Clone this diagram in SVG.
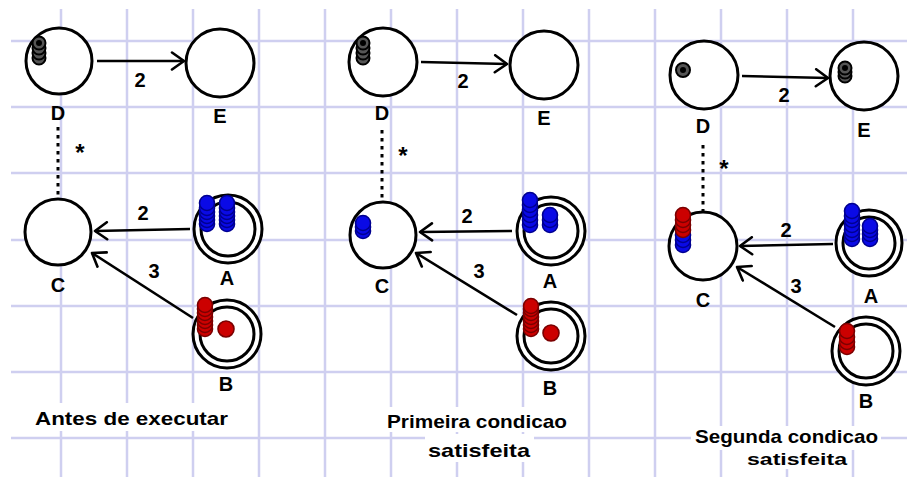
<svg xmlns="http://www.w3.org/2000/svg" width="907" height="477" viewBox="0 0 907 477">
<style>
.grid line{stroke:#cfcff0;stroke-width:2.5}
.node{fill:#fff;stroke:#000;stroke-width:3}
.edge{stroke:#000;stroke-width:2.6;fill:none}
.dot{stroke:#000;stroke-width:3;stroke-dasharray:3.5 4.5;fill:none}
.lbl{font-family:"Liberation Sans",Arial,sans-serif;font-weight:bold;font-size:20px;fill:#000;text-anchor:middle}
.star{font-family:"Liberation Sans",Arial,sans-serif;font-weight:bold;font-size:24px;fill:#000;text-anchor:middle}
.cap{font-family:"Liberation Sans",Arial,sans-serif;font-weight:bold;font-size:19px;fill:#000}
.bl{fill:#0a0ae6;stroke:#000090;stroke-width:1.6}
.rd{fill:#cc0000;stroke:#7a0000;stroke-width:1.6}
.bk{fill:#555;stroke:#000;stroke-width:2}
.bkc{fill:#000}
.bg{fill:#fff}
</style>
<defs>
<marker id="ah" markerUnits="userSpaceOnUse" markerWidth="18" markerHeight="20" refX="14" refY="10" orient="auto">
<path d="M2,1.5 L14,10 L2,18.5" fill="none" stroke="#000" stroke-width="2.6" stroke-linecap="round" stroke-linejoin="round"/>
</marker>
</defs>
<rect width="907" height="477" fill="#fff"/>
<g class="grid">
<line x1="61" y1="9" x2="61" y2="477"/><line x1="127" y1="9" x2="127" y2="477"/><line x1="193" y1="9" x2="193" y2="477"/><line x1="259" y1="9" x2="259" y2="477"/><line x1="325" y1="9" x2="325" y2="477"/><line x1="391" y1="9" x2="391" y2="477"/><line x1="457" y1="9" x2="457" y2="477"/><line x1="523" y1="9" x2="523" y2="477"/><line x1="589" y1="9" x2="589" y2="477"/><line x1="655" y1="9" x2="655" y2="477"/><line x1="721" y1="9" x2="721" y2="477"/><line x1="787" y1="9" x2="787" y2="477"/><line x1="853" y1="9" x2="853" y2="477"/>
<line x1="11" y1="41" x2="907" y2="41"/><line x1="11" y1="107" x2="907" y2="107"/><line x1="11" y1="173" x2="907" y2="173"/><line x1="11" y1="240" x2="907" y2="240"/><line x1="11" y1="306" x2="907" y2="306"/><line x1="11" y1="372" x2="907" y2="372"/><line x1="11" y1="438" x2="907" y2="438"/>
</g>
<g id="connectors">
<line class="edge" x1="97" y1="61" x2="184" y2="61" marker-end="url(#ah)"/>
<line class="edge" x1="190" y1="229" x2="95" y2="231" marker-end="url(#ah)"/>
<line class="edge" x1="193" y1="318" x2="92" y2="253" marker-end="url(#ah)"/>
<line class="dot" x1="58" y1="127" x2="58" y2="197"/>
<line class="edge" x1="421" y1="62" x2="507" y2="64" marker-end="url(#ah)"/>
<line class="edge" x1="512" y1="231" x2="420" y2="232" marker-end="url(#ah)"/>
<line class="edge" x1="517" y1="315" x2="416" y2="253" marker-end="url(#ah)"/>
<line class="dot" x1="382" y1="130" x2="382" y2="201"/>
<line class="edge" x1="742" y1="76" x2="828" y2="78" marker-end="url(#ah)"/>
<line class="edge" x1="833" y1="244" x2="740" y2="246" marker-end="url(#ah)"/>
<line class="edge" x1="835" y1="327" x2="737" y2="267" marker-end="url(#ah)"/>
<line class="dot" x1="703" y1="145" x2="703" y2="211"/>
<text class="lbl" x="140" y="87">2</text><text class="lbl" x="143" y="220">2</text><text class="lbl" x="154" y="278">3</text><text class="star" x="80" y="161">*</text>
<text class="lbl" x="463" y="88">2</text><text class="lbl" x="467" y="223">2</text><text class="lbl" x="479" y="278">3</text><text class="star" x="403" y="164">*</text>
<text class="lbl" x="784" y="102">2</text><text class="lbl" x="786" y="237">2</text><text class="lbl" x="796" y="293">3</text><text class="star" x="724" y="177">*</text>
</g>
<!-- Panel 1 -->
<g id="p1-D"><circle class="node" cx="59" cy="61" r="33"/>
<circle class="bk" cx="39" cy="58" r="6.5"/><circle class="bk" cx="39" cy="53" r="6.5"/><circle class="bk" cx="39" cy="48" r="6.5"/><circle class="bk" cx="39" cy="43" r="6.5"/><circle class="bkc" cx="39" cy="43" r="3"/>
<text class="lbl" x="58" y="120">D</text></g>
<g id="p1-E"><circle class="node" cx="220" cy="63" r="34"/><text class="lbl" x="220" y="123">E</text></g>
<g id="p1-C"><circle class="node" cx="58" cy="232" r="33"/><text class="lbl" x="58" y="292">C</text></g>
<g id="p1-A"><circle class="node" cx="228" cy="229" r="34"/><circle class="node" cx="228" cy="229" r="27"/>
<circle class="bl" cx="207" cy="224" r="7.5"/><circle class="bl" cx="207" cy="220" r="7.5"/><circle class="bl" cx="207" cy="216" r="7.5"/><circle class="bl" cx="207" cy="212" r="7.5"/><circle class="bl" cx="207" cy="208" r="7.5"/><circle class="bl" cx="207" cy="203" r="7.5"/>
<circle class="bl" cx="227" cy="224" r="7.5"/><circle class="bl" cx="227" cy="220" r="7.5"/><circle class="bl" cx="227" cy="216" r="7.5"/><circle class="bl" cx="227" cy="212" r="7.5"/><circle class="bl" cx="227" cy="208" r="7.5"/><circle class="bl" cx="227" cy="203" r="7.5"/>
<text class="lbl" x="227" y="285">A</text></g>
<g id="p1-B"><circle class="node" cx="227" cy="334" r="34"/><circle class="node" cx="227" cy="334" r="27"/>
<circle class="rd" cx="205" cy="329" r="7.5"/><circle class="rd" cx="205" cy="325" r="7.5"/><circle class="rd" cx="205" cy="321" r="7.5"/><circle class="rd" cx="205" cy="317" r="7.5"/><circle class="rd" cx="205" cy="313" r="7.5"/><circle class="rd" cx="205" cy="309" r="7.5"/><circle class="rd" cx="205" cy="305" r="7.5"/>
<circle class="rd" cx="226" cy="329" r="8"/>
<text class="lbl" x="226" y="391">B</text></g>
<g id="p1-caption"><rect class="bg" x="32" y="403" width="200" height="28"/><text class="cap" x="35" y="425" textLength="193" lengthAdjust="spacingAndGlyphs">Antes de executar</text></g>
<!-- Panel 2 -->
<g id="p2-D"><circle class="node" cx="383" cy="62" r="34"/>
<circle class="bk" cx="363" cy="58" r="6.5"/><circle class="bk" cx="363" cy="53" r="6.5"/><circle class="bk" cx="363" cy="48" r="6.5"/><circle class="bk" cx="363" cy="43" r="6.5"/><circle class="bkc" cx="363" cy="43" r="3"/>
<text class="lbl" x="382" y="120">D</text></g>
<g id="p2-E"><circle class="node" cx="544" cy="65" r="34"/><text class="lbl" x="544" y="125">E</text></g>
<g id="p2-C"><circle class="node" cx="383" cy="235" r="33"/>
<circle class="bl" cx="363" cy="231" r="7.5"/><circle class="bl" cx="363" cy="227" r="7.5"/><circle class="bl" cx="363" cy="223" r="7.5"/>
<text class="lbl" x="382" y="293">C</text></g>
<g id="p2-A"><circle class="node" cx="551" cy="231" r="34"/><circle class="node" cx="551" cy="231" r="27"/>
<circle class="bl" cx="530" cy="225" r="7.5"/><circle class="bl" cx="530" cy="220" r="7.5"/><circle class="bl" cx="530" cy="215" r="7.5"/><circle class="bl" cx="530" cy="210" r="7.5"/><circle class="bl" cx="530" cy="205" r="7.5"/><circle class="bl" cx="530" cy="200" r="7.5"/>
<circle class="bl" cx="550" cy="225" r="7.5"/><circle class="bl" cx="550" cy="220" r="7.5"/><circle class="bl" cx="550" cy="215" r="7.5"/>
<text class="lbl" x="550" y="288">A</text></g>
<g id="p2-B"><circle class="node" cx="551" cy="336" r="34"/><circle class="node" cx="551" cy="336" r="27"/>
<circle class="rd" cx="531" cy="329" r="7.5"/><circle class="rd" cx="531" cy="325" r="7.5"/><circle class="rd" cx="531" cy="321" r="7.5"/><circle class="rd" cx="531" cy="317" r="7.5"/><circle class="rd" cx="531" cy="313" r="7.5"/><circle class="rd" cx="531" cy="309" r="7.5"/><circle class="rd" cx="531" cy="306" r="7.5"/>
<circle class="rd" cx="551" cy="333" r="8"/>
<text class="lbl" x="550" y="395">B</text></g>
<g id="p2-caption"><rect class="bg" x="384" y="407" width="187" height="25"/><rect class="bg" x="425" y="434" width="109" height="28"/>
<text class="cap" x="387" y="428" textLength="180" lengthAdjust="spacingAndGlyphs">Primeira condicao</text>
<text class="cap" x="428" y="457" textLength="102" lengthAdjust="spacingAndGlyphs">satisfeita</text></g>
<!-- Panel 3 -->
<g id="p3-D"><circle class="node" cx="704" cy="75" r="34"/>
<circle class="bk" cx="683" cy="70" r="7"/><circle class="bkc" cx="683" cy="70" r="3"/>
<text class="lbl" x="703" y="133">D</text></g>
<g id="p3-E"><circle class="node" cx="864" cy="76" r="34"/>
<circle class="bk" cx="845" cy="76" r="6.5"/><circle class="bk" cx="845" cy="72" r="6.5"/><circle class="bk" cx="845" cy="68" r="6.5"/><circle class="bkc" cx="845" cy="68" r="3"/>
<text class="lbl" x="864" y="137">E</text></g>
<g id="p3-C"><circle class="node" cx="703" cy="246" r="34"/>
<circle class="bl" cx="683" cy="245" r="7.5"/><circle class="bl" cx="683" cy="240" r="7.5"/><circle class="bl" cx="683" cy="235" r="7.5"/>
<circle class="rd" cx="683" cy="230" r="7.5"/><circle class="rd" cx="683" cy="225" r="7.5"/><circle class="rd" cx="683" cy="220" r="7.5"/><circle class="rd" cx="683" cy="215" r="7.5"/>
<text class="lbl" x="703" y="307">C</text></g>
<g id="p3-A"><circle class="node" cx="869" cy="243" r="33"/><circle class="node" cx="869" cy="243" r="26"/>
<circle class="bl" cx="852" cy="239" r="7.5"/><circle class="bl" cx="852" cy="234" r="7.5"/><circle class="bl" cx="852" cy="230" r="7.5"/><circle class="bl" cx="852" cy="225" r="7.5"/><circle class="bl" cx="852" cy="220" r="7.5"/><circle class="bl" cx="852" cy="216" r="7.5"/><circle class="bl" cx="852" cy="211" r="7.5"/>
<circle class="bl" cx="870" cy="239" r="7.5"/><circle class="bl" cx="870" cy="234" r="7.5"/><circle class="bl" cx="870" cy="230" r="7.5"/><circle class="bl" cx="870" cy="226" r="7.5"/>
<text class="lbl" x="871" y="303">A</text></g>
<g id="p3-B"><circle class="node" cx="866" cy="351" r="34"/><circle class="node" cx="866" cy="351" r="27"/>
<circle class="rd" cx="847" cy="347" r="7.5"/><circle class="rd" cx="847" cy="342" r="7.5"/><circle class="rd" cx="847" cy="337" r="7.5"/><circle class="rd" cx="847" cy="331" r="7.5"/>
<text class="lbl" x="866" y="408">B</text></g>
<g id="p3-caption"><rect class="bg" x="691" y="426" width="190" height="24"/><rect class="bg" x="744" y="448" width="106" height="21"/>
<text class="cap" x="695" y="443" textLength="183" lengthAdjust="spacingAndGlyphs">Segunda condicao</text>
<text class="cap" style="font-size:16px" x="747" y="465" textLength="100" lengthAdjust="spacingAndGlyphs">satisfeita</text></g>
</svg>
